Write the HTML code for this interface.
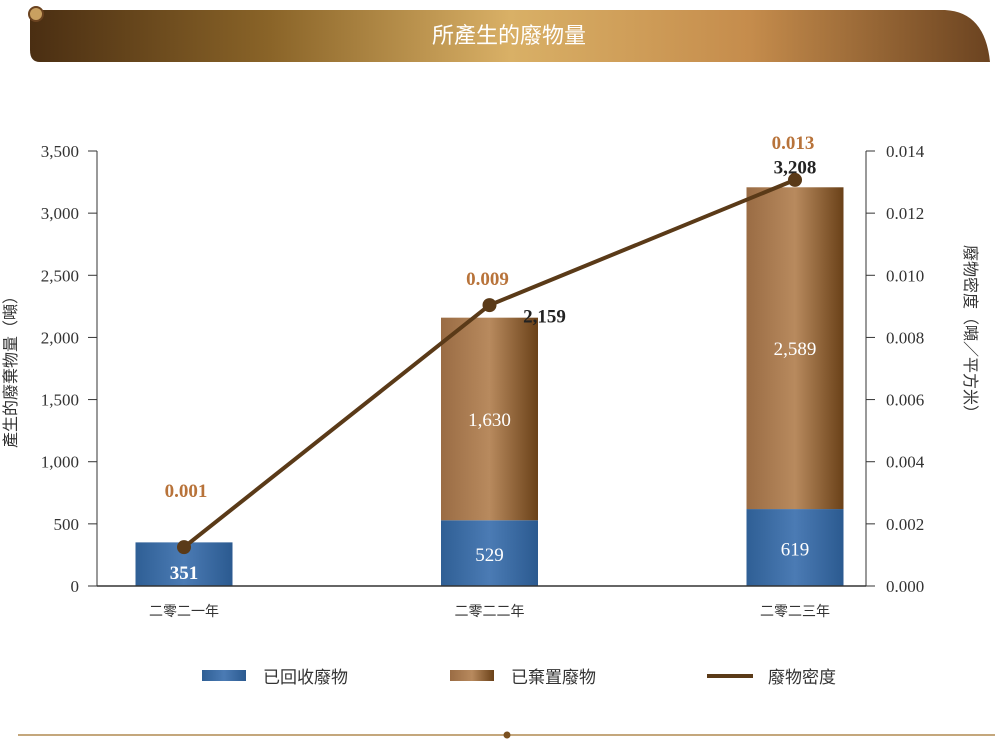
<!DOCTYPE html>
<html><head><meta charset="utf-8"><style>
body{margin:0;background:#fff;width:1000px;height:739px;overflow:hidden;font-family:"Liberation Serif","Noto Serif CJK SC",serif}
svg text{font-family:"Liberation Serif","Noto Sans CJK TC",serif}
</style></head><body>
<svg width="1000" height="739" viewBox="0 0 1000 739">
<defs>
<linearGradient id="hdr" x1="0" x2="1" y1="0" y2="0">
<stop offset="0" stop-color="#4a2e12"/><stop offset="0.25" stop-color="#8a6428"/><stop offset="0.5" stop-color="#d9b066"/><stop offset="0.75" stop-color="#c58c4c"/><stop offset="1" stop-color="#6b4320"/></linearGradient>
<linearGradient id="blue" x1="0" x2="1"><stop offset="0" stop-color="#2f5f95"/><stop offset="0.5" stop-color="#4b7bb4"/><stop offset="1" stop-color="#2b5a90"/></linearGradient>
<linearGradient id="brown" x1="0" x2="1"><stop offset="0" stop-color="#9a6c44"/><stop offset="0.5" stop-color="#b88a5e"/><stop offset="1" stop-color="#6a4118"/></linearGradient>
</defs>
<g>
<path d="M30 10 H945 Q985 12 990 62 H40 Q30 62 30 50 Z" fill="url(#hdr)"/>
<circle cx="36" cy="14" r="7" fill="#c9a060" stroke="#6b4320" stroke-width="2"/>
<text x="509" y="43" text-anchor="middle" font-size="22" fill="#fff" font-family="Noto Serif CJK SC, serif">所產生的廢物量</text>
</g>
<g id="chart"></g>
<line x1="18" y1="735" x2="995" y2="735" stroke="#b08a50" stroke-width="1.5"/>
<circle cx="507" cy="735" r="3.5" fill="#7a5020"/>
</svg>
<script>
const categories=["二零二一年","二零二二年","二零二三年"];
const recycled=[351,529,619];
const disposed=[0,1630,2589];
const totals=[351,2159,3208];
const density=[0.00125,0.00904,0.01307];
const densityLabels=["0.001","0.009","0.013"];
const leftTicks=[0,500,1000,1500,2000,2500,3000,3500];
const rightTicks=[0,0.002,0.004,0.006,0.008,0.010,0.012,0.014];
const NS="http://www.w3.org/2000/svg";
const g=document.getElementById('chart');
const X0=97,X1=866,Y0=586,Y1=151;
const yL=v=>Y0-(v/3500)*(Y0-Y1);
const yR=v=>Y0-(v/0.014)*(Y0-Y1);
const xC=i=>184+i*(795-184)/(categories.length-1);
const BW=97;
function el(t,a,txt){const e=document.createElementNS(NS,t);for(const k in a)e.setAttribute(k,a[k]);if(txt!=null)e.textContent=txt;g.appendChild(e);return e;}
leftTicks.forEach(v=>{
 const t=el('line',{x1:88,x2:X0,y1:yL(v),y2:yL(v),stroke:'#333'});
 
 
 const l=el('text',{x:79,y:yL(v)+6,'text-anchor':'end','font-size':17,fill:'#333'},v.toLocaleString('en-US'));
 
 
});
rightTicks.forEach(v=>{
 const t=el('line',{x1:X1,x2:875,y1:yR(v),y2:yR(v),stroke:'#333'});
 
 
 const l=el('text',{x:886,y:yR(v)+6,'font-size':17,fill:'#333'},v.toFixed(3));
 
 
});
categories.forEach((c,i)=>{
 const x=xC(i);
 const b=el('rect',{x:x-BW/2,y:yL(recycled[i]),width:BW,height:Y0-yL(recycled[i]),fill:'url(#blue)'});
 
 
 if(disposed[i]>0){
  const d=el('rect',{x:x-BW/2,y:yL(recycled[i]+disposed[i]),width:BW,height:yL(recycled[i])-yL(recycled[i]+disposed[i]),fill:'url(#brown)'});
  
  
  const dl=el('text',{x:x,y:(yL(recycled[i])+yL(recycled[i]+disposed[i]))/2+7,'text-anchor':'middle','font-size':19,fill:'#fff'},disposed[i].toLocaleString('en-US'));
  
  
 }
 const rl=el('text',{x:x,y:i==0?579:(yL(recycled[i])+Y0)/2+8,'text-anchor':'middle','font-size':19,fill:'#fff','font-weight':i==0?'bold':'normal'},recycled[i].toLocaleString('en-US'));
 
 
 const cl=el('text',{x:x,y:616,'text-anchor':'middle','font-size':14,fill:'#333','font-family':'Noto Sans CJK TC, sans-serif'},c);
 
 
 if(i>0){
  const tl=el('text',{x:i==1?x+55:x,y:i==1?yL(totals[i])+5:yL(totals[i])-14,'text-anchor':'middle','font-size':19,'font-weight':'bold',fill:'#222'},totals[i].toLocaleString('en-US'));
  
  
 }
});
const ax=el('line',{x1:X0,x2:X0,y1:Y1,y2:Y0,stroke:'#333'});


const ax2=el('line',{x1:X1,x2:X1,y1:Y1,y2:Y0,stroke:'#333'});


const bx=el('line',{x1:X0,x2:X1,y1:Y0,y2:Y0,stroke:'#333','stroke-width':1.5});


const pl=el('polyline',{points:density.map((d,i)=>xC(i)+','+yR(d)).join(' '),fill:'none',stroke:'#5a3a18','stroke-width':4});


density.forEach((d,i)=>{
 const p=el('circle',{cx:xC(i),cy:yR(d),r:7,fill:'#5a3a18'});
 
 
 const l=el('text',{x:i==0?xC(i)+2:xC(i)-2,y:i==0?497:yR(d)-20,'text-anchor':'middle','font-size':19,'font-weight':'bold',fill:'#b8733a'},densityLabels[i]);
 if(i==2) l.setAttribute('y',yR(d)-31);
 
 
});
const yt=el('text',{transform:'translate(16,368) rotate(-90)','text-anchor':'middle','font-size':16,fill:'#333','font-family':'Noto Sans CJK TC, sans-serif'},'產生的廢棄物量（噸）');


const yt2=el('text',{transform:'translate(965,333) rotate(90)','text-anchor':'middle','font-size':16,fill:'#333','font-family':'Noto Sans CJK TC, sans-serif'},'廢物密度（噸／平方米）');


const lg=[['rect','url(#blue)','已回收廢物',202],['rect','url(#brown)','已棄置廢物',450],['line','#5a3a18','廢物密度',707]];
lg.forEach(([t,f,txt,x])=>{
 if(t=='rect'){const r=el('rect',{x:x,y:670,width:44,height:11,fill:f});}
 else{const r=el('line',{x1:x,x2:x+46,y1:676,y2:676,stroke:f,'stroke-width':4});}
 const l=el('text',{x:x+61,y:683,'font-size':17,fill:'#333','font-family':'Noto Sans CJK TC, sans-serif'},txt);
 
 
});
</script>
</body></html>
